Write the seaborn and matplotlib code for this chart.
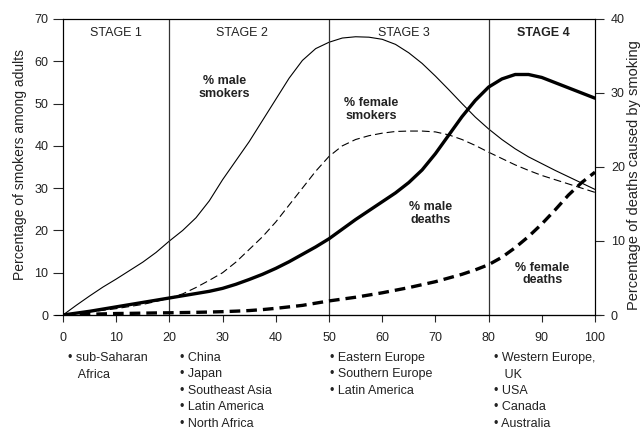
import numpy as np
import pandas as pd
import matplotlib
matplotlib.use("Agg")
import matplotlib.pyplot as plt
import seaborn as sns

# stage of the tobacco epidemic (years since onset, 0-100), read every 2.5
years = [i * 2.5 for i in range(41)]

# left axis: % of adults who smoke
male_smokers = [0, 2.3, 4.5, 6.6, 8.5, 10.5, 12.5, 14.8, 17.5, 20, 23,
                27, 32, 36.5, 41, 46, 51, 56, 60.2, 63, 64.5,
                65.5, 65.8, 65.7, 65.2, 64, 62, 59.5, 56.5, 53.3, 50,
                46.8, 44, 41.5, 39.3, 37.4, 35.8, 34.2, 32.7, 31.2, 29.7]
female_smokers = [0, 0.4, 0.8, 1.1, 1.5, 2, 2.5, 3.2, 4, 5, 6.5,
                  8.2, 10, 12.5, 15.5, 18.5, 22, 26, 30, 34, 37.5,
                  40, 41.5, 42.4, 43, 43.4, 43.5, 43.5, 43.3, 42.6, 41.5,
                  40.1, 38.5, 37, 35.5, 34.2, 33, 32, 31, 30, 29]

# right axis: % of deaths caused by smoking
male_deaths = [0, 0.25, 0.5, 0.8, 1.1, 1.4, 1.7, 2.0, 2.3, 2.6, 2.9,
               3.2, 3.6, 4.15, 4.8, 5.5, 6.3, 7.2, 8.2, 9.2, 10.3,
               11.6, 12.9, 14.1, 15.3, 16.5, 17.9, 19.6, 21.8, 24.3, 26.8,
               29, 30.8, 31.9, 32.5, 32.5, 32.1, 31.4, 30.7, 30, 29.3]
female_deaths = [0, 0.05, 0.1, 0.15, 0.2, 0.22, 0.25, 0.28, 0.3, 0.33, 0.36,
                 0.4, 0.45, 0.52, 0.6, 0.73, 0.9, 1.1, 1.3, 1.6, 1.9,
                 2.15, 2.4, 2.7, 3.0, 3.35, 3.7, 4.1, 4.5, 5, 5.5,
                 6.1, 6.8, 7.8, 9.1, 10.6, 12.3, 14.2, 16.2, 17.9, 19.3]

stage_bounds = [20, 50, 80]
stage_names = ["STAGE 1", "STAGE 2", "STAGE 3", "STAGE 4"]
stage_centers = [10, 33.6, 64, 90.3]

regions = [
    ["• sub-Saharan", "   Africa"],
    ["• China", "• Japan", "• Southeast Asia", "• Latin America", "• North Africa"],
    ["• Eastern Europe", "• Southern Europe", "• Latin America"],
    ["• Western Europe,", "   UK", "• USA", "• Canada", "• Australia"],
]
region_x_px = [68, 180, 330, 494]

df = pd.DataFrame({"year": years, "male_smokers": male_smokers,
                   "female_smokers": female_smokers,
                   "male_deaths": male_deaths, "female_deaths": female_deaths})

sns.set_style("ticks")
plt.rcParams["font.family"] = ["Liberation Sans", "DejaVu Sans"]
txt = "#222222"

W, H = 643, 430
fig = plt.figure(figsize=(W / 100, H / 100), dpi=100)
ax = fig.add_axes([63 / W, 1 - 315 / H, 532 / W, 296 / H])
ax2 = ax.twinx()

sns.lineplot(data=df, x="year", y="male_smokers", ax=ax, color="k", lw=0.8)
sns.lineplot(data=df, x="year", y="female_smokers", ax=ax, color="k", lw=0.8,
             linestyle=(0, (7, 3.6)))
sns.lineplot(data=df, x="year", y="male_deaths", ax=ax2, color="k", lw=2.4)
sns.lineplot(data=df, x="year", y="female_deaths", ax=ax2, color="k", lw=2.4,
             linestyle=(0, (3.2, 1.8)))

ax.set_xlim(0, 100)
ax.set_ylim(0, 70)
ax2.set_ylim(0, 40)
ax.set_xticks(range(0, 101, 10))
ax.set_yticks(range(0, 71, 10))
ax2.set_yticks(range(0, 41, 10))
ax.set_xlabel("")
ax.set_ylabel("")
ax2.set_ylabel("")

for a in (ax, ax2):
    for s in a.spines.values():
        s.set_visible(True)
        s.set_linewidth(0.8)
        s.set_color("k")
ax.tick_params(axis="y", direction="out", length=7, width=0.8, pad=3.5,
               labelsize=9, labelcolor=txt)
ax.tick_params(axis="x", direction="out", length=5, width=0.8, pad=7,
               labelsize=9, labelcolor=txt)
ax2.tick_params(axis="y", direction="out", length=6.5, width=0.8, pad=5,
                labelsize=9, labelcolor=txt)

# bottom axis line runs a little past both ends
ax.plot([-0.015, 1.011], [0, 0], transform=ax.transAxes, clip_on=False,
        color="k", lw=0.8)

for b in stage_bounds:
    ax.axvline(b, color="#333333", lw=0.9)
for name, c in zip(stage_names, stage_centers):
    ax.text(c, 66.7, name, ha="center", va="center", fontsize=9, color=txt,
            fontweight="bold" if name == "STAGE 4" else "normal")

bold = dict(ha="center", va="center", fontsize=9, fontweight="bold",
            color=txt, linespacing=1.1)
ax.text(30.3, 53.7, "% male\nsmokers", **bold)
ax.text(58, 48.7, "% female\nsmokers", **bold)
ax.text(69.1, 24, "% male\ndeaths", **bold)
ax.text(90.1, 9.7, "% female\ndeaths", **bold)

fig.text(13 / W, 1 - 165 / H, "Percentage of smokers among adults",
         rotation=90, ha="left", va="center", fontsize=10, color=txt)
fig.text(627 / W, 1 - 310 / H, "Percentage of deaths caused by smoking",
         rotation=90, ha="left", va="bottom", fontsize=10.5, color=txt)

for lines, xp in zip(regions, region_x_px):
    for i, line in enumerate(lines):
        fig.text(xp / W, 1 - (358 + 16.5 * i) / H, line, ha="left",
                 va="center", fontsize=9, color=txt)

fig.savefig("out.png", dpi=100)
